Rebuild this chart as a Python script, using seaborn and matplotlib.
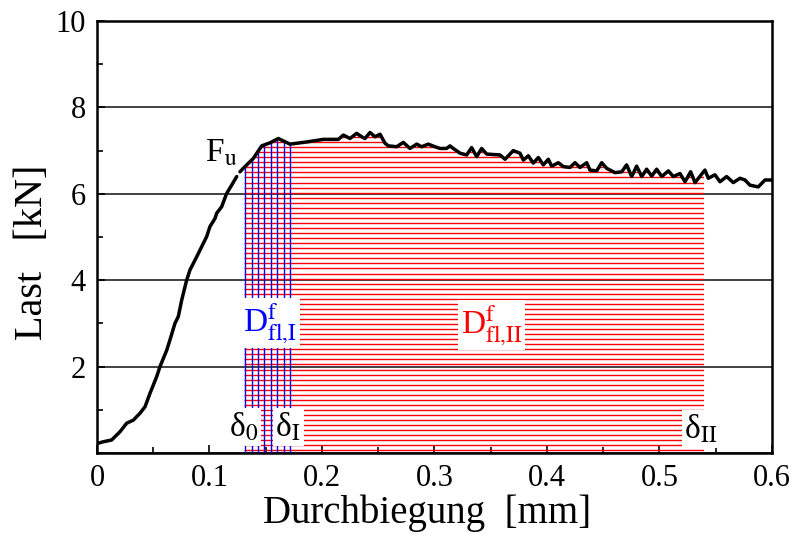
import matplotlib.pyplot as plt
import numpy as np
import pandas as pd
import seaborn as sns
from matplotlib.patches import Polygon
from matplotlib.ticker import MultipleLocator

# load-deflection curve
rise_x = [0.0003, 0.0056, 0.013, 0.0204, 0.0264, 0.0323, 0.0382, 0.0427, 0.0471, 0.0531,
          0.056, 0.062, 0.0649, 0.0693, 0.0723, 0.0753, 0.0797, 0.0827, 0.0886, 0.0916,
          0.0975, 0.1004, 0.1049, 0.1064, 0.1108, 0.1153, 0.1197, 0.1242]
rise_y = [0.22, 0.26, 0.30, 0.49, 0.69, 0.76, 0.92, 1.07, 1.38, 1.77,
          2.00, 2.38, 2.62, 3.00, 3.16, 3.54, 4.00, 4.24, 4.54, 4.70,
          5.01, 5.24, 5.43, 5.55, 5.70, 6.01, 6.20, 6.40]

plateau_x = [0.1271, 0.1316, 0.1390, 0.1464, 0.1538, 0.1612, 0.1716, 0.1864, 0.2012, 0.2145,
             0.2190, 0.2249, 0.2308, 0.2353, 0.2382, 0.2427, 0.2471, 0.2516, 0.2560, 0.2590,
             0.2664, 0.2723, 0.2782, 0.2842, 0.2886, 0.2945, 0.3004, 0.3049, 0.3108, 0.3138,
             0.3167, 0.3227, 0.3286, 0.3330, 0.3375, 0.3419, 0.3464, 0.3582, 0.3627, 0.3700,
             0.3760, 0.3790, 0.3834, 0.3878, 0.3923, 0.3967, 0.4012, 0.4041, 0.4101, 0.4145,
             0.4204, 0.4249, 0.4293, 0.4353, 0.4382, 0.4442, 0.4486, 0.4531, 0.4604, 0.4664,
             0.4708, 0.4753, 0.4797, 0.4842, 0.4886, 0.4931, 0.4975, 0.5020, 0.5079, 0.5123,
             0.5182, 0.5227, 0.5277, 0.5316, 0.5404, 0.5434, 0.5493, 0.5538, 0.5597, 0.5656,
             0.5716, 0.5760, 0.5804, 0.5878, 0.5938, 0.6000]
plateau_y = [6.51, 6.63, 6.82, 7.11, 7.18, 7.28, 7.15, 7.20, 7.26, 7.26,
             7.36, 7.28, 7.40, 7.32, 7.28, 7.42, 7.32, 7.38, 7.17, 7.11,
             7.09, 7.19, 7.05, 7.15, 7.09, 7.15, 7.09, 7.05, 7.05, 7.11,
             7.05, 6.94, 6.90, 7.07, 6.86, 7.05, 6.92, 6.90, 6.80, 7.00,
             6.94, 6.78, 6.88, 6.71, 6.84, 6.67, 6.80, 6.64, 6.72, 6.63,
             6.61, 6.72, 6.61, 6.72, 6.55, 6.53, 6.72, 6.59, 6.49, 6.51,
             6.67, 6.40, 6.64, 6.40, 6.57, 6.41, 6.57, 6.40, 6.53, 6.40,
             6.47, 6.28, 6.51, 6.26, 6.55, 6.36, 6.44, 6.28, 6.40, 6.26,
             6.36, 6.32, 6.20, 6.16, 6.32, 6.32]

# hatched energy areas
hatch_start = 0.1307
hatch_end = 0.5396
blue_x = [0.1316, 0.1378, 0.1431, 0.1484, 0.1547, 0.1600, 0.1662, 0.1716]
red_step = 0.117

x_ticks = [0, 0.1, 0.2, 0.3, 0.4, 0.5, 0.6]
x_tick_labels = ["0", "0.1", "0.2", "0.3", "0.4", "0.5", "0.6"]
y_ticks = [0, 2, 4, 6, 8, 10]
y_tick_labels = ["", "2", "4", "6", "8", "10"]

sns.set_theme(style="ticks")
plt.rcParams["font.family"] = ["Liberation Serif", "DejaVu Serif"]
plt.rcParams["mathtext.fontset"] = "stix"
plt.rcParams["text.color"] = "black"
plt.rcParams["axes.labelcolor"] = "black"

fig = plt.figure(figsize=(7.93, 5.35), dpi=100)
ax = fig.add_axes([0.1223, 0.1533, 0.8512, 0.8074])

rise = pd.DataFrame({"x": rise_x, "y": rise_y})
plateau = pd.DataFrame({"x": plateau_x, "y": plateau_y})
sns.lineplot(data=rise, x="x", y="y", color="black", lw=2.5, ax=ax, zorder=5)
sns.lineplot(data=plateau, x="x", y="y", color="black", lw=2.5, ax=ax, zorder=5)

# clip region under the curve between the two deflection limits
px = np.array(plateau_x)
py = np.array(plateau_y)
inside = (px > hatch_start) & (px < hatch_end)
top_x = np.r_[hatch_start, px[inside], hatch_end]
top_y = np.interp(top_x, px, py)
region = Polygon(np.c_[np.r_[hatch_start, top_x, hatch_end], np.r_[0, top_y, 0]],
                 closed=True, transform=ax.transData, facecolor="none", edgecolor="none")
ax.add_patch(region)

levels = np.arange(0.06, 7.6, red_step)
reds = ax.hlines(levels, hatch_start, hatch_end, colors="red", lw=1.0, zorder=2)
reds.set_clip_path(region)
blues = ax.vlines(blue_x, 0, 7.6, colors="blue", lw=1.0, zorder=3)
blues.set_clip_path(region)

ax.yaxis.grid(True, color="#333333", lw=1.3, zorder=1)

box = dict(facecolor="white", edgecolor="none", pad=2)
ax.text(0.110, 6.94, "F$_\\mathrm{u}$", fontsize=24, ha="center", va="center", zorder=6)
ax.text(0.1538, 3.0, "D$^\\mathrm{f}_\\mathrm{fl{,}I}$", color="blue", fontsize=24,
        ha="center", va="center", bbox=box, zorder=6)
ax.text(0.351, 2.96, "D$^\\mathrm{f}_\\mathrm{fl{,}II}$", color="red", fontsize=24,
        ha="center", va="center", bbox=box, zorder=6)
ax.text(0.1307, 0.6, "δ$_\\mathrm{0}$", fontsize=24, ha="center", va="center", bbox=box, zorder=6)
ax.text(0.170, 0.6, "δ$_\\mathrm{I}$", fontsize=24, ha="center", va="center", bbox=box, zorder=6)
ax.text(0.537, 0.55, "δ$_\\mathrm{II}$", fontsize=24, ha="center", va="center", bbox=box, zorder=6)

ax.set_xlim(0, 0.6)
ax.set_ylim(0, 10)
ax.set_xticks(x_ticks)
ax.set_xticklabels(x_tick_labels)
ax.set_yticks(y_ticks)
ax.set_yticklabels(y_tick_labels)
ax.xaxis.set_minor_locator(MultipleLocator(0.05))
ax.yaxis.set_minor_locator(MultipleLocator(1))
ax.tick_params(which="both", direction="in", width=1.2, colors="black", labelsize=22,
               top=False, right=False)
ax.tick_params(which="major", length=6, pad=8)
ax.tick_params(which="minor", length=4)
for spine in ax.spines.values():
    spine.set_visible(True)
    spine.set_linewidth(1.8)
    spine.set_color("black")

ax.set_xlabel("Durchbiegung  [mm]", fontsize=28, va="center", color="black")
ax.set_ylabel("Last   [kN]", fontsize=29, va="center", color="black")
ax.xaxis.set_label_coords(0.489, -0.14)
ax.yaxis.set_label_coords(-0.095, 0.465)

fig.savefig("out.png", dpi=100)
